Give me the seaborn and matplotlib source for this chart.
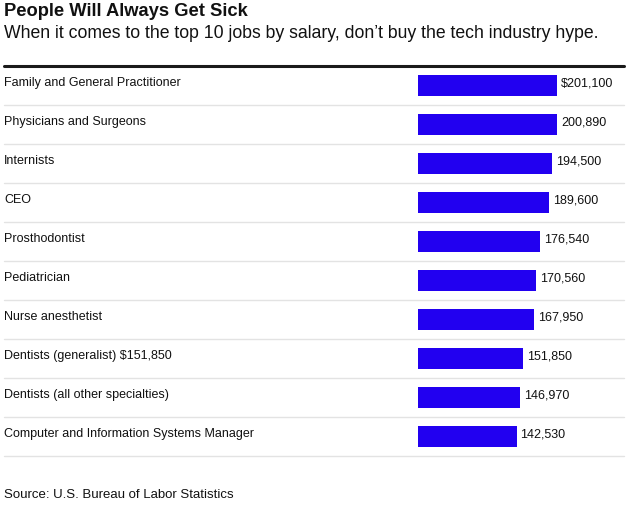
import matplotlib
matplotlib.use('Agg')
import matplotlib.pyplot as plt
import matplotlib.transforms as mtransforms
import seaborn as sns
import pandas as pd

jobs = ['Family and General Practitioner', 'Physicians and Surgeons', 'Internists', 'CEO',
        'Prosthodontist', 'Pediatrician', 'Nurse anesthetist', 'Dentists (generalist) $151,850',
        'Dentists (all other specialties)', 'Computer and Information Systems Manager']
salaries = [201100, 200890, 194500, 189600, 176540, 170560, 167950, 151850, 146970, 142530]
value_labels = ['$201,100', '200,890', '194,500', '189,600', '176,540', '170,560',
                '167,950', '151,850', '146,970', '142,530']

BAR_COLOR = '#2200f0'
TEXT_COLOR = '#111111'

sns.set_style('white')
plt.rcParams['font.family'] = ['Liberation Sans', 'DejaVu Sans']

W, H = 630, 510
fig = plt.figure(figsize=(6.3, 5.1), dpi=100)
# axes spans the full row width; bars begin at x=418px
left_px, right_px, top_px, bot_px = 4, 624, 67, 457
ax = fig.add_axes([left_px / W, 1 - bot_px / H, (right_px - left_px) / W, (bot_px - top_px) / H])

df = pd.DataFrame({'job': jobs, 'salary': salaries})
sns.barplot(data=df, x='salary', y='job', orient='h', color=BAR_COLOR, width=0.52,
            saturation=1, linewidth=0, ax=ax)

px_per_unit = (557 - 418) / 201100
ax.set_xlim(-(418 - left_px) / px_per_unit, (right_px - 418) / px_per_unit)
ax.set_ylim(len(jobs) - 0.5, -0.5)
ax.axis('off')

trans = mtransforms.blended_transform_factory(ax.transAxes, ax.transData)
for i, (job, val, lab) in enumerate(zip(jobs, salaries, value_labels)):
    ax.text(0, i - 0.08, job, transform=trans, ha='left', va='center',
            fontsize=9, color=TEXT_COLOR)
    ax.text(val + 4 / px_per_unit, i - 0.08, lab, ha='left', va='center',
            fontsize=9, color=TEXT_COLOR)
    ax.axhline(i + 0.5, color='#e3e3e3', lw=1, zorder=0, clip_on=False)
ax.axhline(-0.5, color='#1a1a1a', lw=2.2, zorder=3, clip_on=False)

fig.text(4 / W, 1 - 12 / H, 'People Will Always Get Sick', fontsize=13.2, fontweight='bold',
         ha='left', va='center', color=TEXT_COLOR)
fig.text(4 / W, 1 - 33 / H, 'When it comes to the top 10 jobs by salary, don\u2019t buy the tech industry hype.',
         fontsize=12.7, ha='left', va='center', color=TEXT_COLOR)
fig.text(4 / W, 1 - 495 / H, 'Source: U.S. Bureau of Labor Statistics', fontsize=9.5,
         ha='left', va='center', color=TEXT_COLOR)

fig.savefig('out.png', dpi=100, facecolor='white')
